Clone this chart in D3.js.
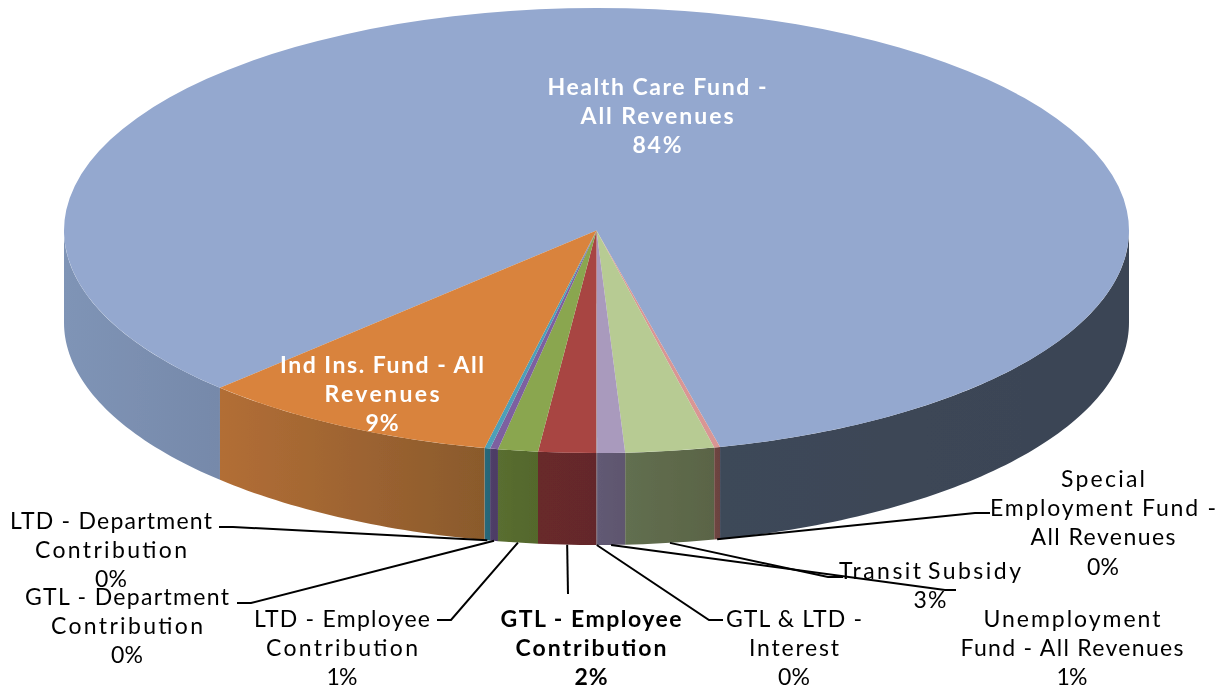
<!DOCTYPE html>
<html>
<head>
<meta charset="utf-8">
<script src="https://cdn.jsdelivr.net/npm/d3@7/dist/d3.min.js"></script>
<style>
html,body{margin:0;padding:0;background:#fff;overflow:hidden}
svg{display:block}
text{font-family:Lato,"Open Sans",sans-serif;font-size:23px;fill:#000;text-anchor:middle}
text.inner{fill:#fff;font-weight:700}
text.strong{font-weight:700}
</style>
</head>
<body>
<svg id="chart" width="1226" height="688"></svg>
<script>
// Data
const categories = ["Health Care Fund - All Revenues","Special Employment Fund - All Revenues","Transit Subsidy","Unemployment Fund - All Revenues","GTL & LTD - Interest","GTL - Employee Contribution","LTD - Employee Contribution","GTL - Department Contribution","LTD - Department Contribution","Ind Ins. Fund - All Revenues"];
const values = [83.79,0.18,2.69,0.84,0.02,1.75,1.21,0.24,0.17,9.13];
const percentLabels = ["84%","0%","3%","1%","0%","2%","1%","0%","0%","9%"];
const labelLines = [
  ["Health Care Fund -","All Revenues"],
  ["Special","Employment Fund -","All Revenues"],
  ["Transit Subsidy"],
  ["Unemployment","Fund - All Revenues"],
  ["GTL & LTD -","Interest"],
  ["GTL - Employee","Contribution"],
  ["LTD - Employee","Contribution"],
  ["GTL - Department","Contribution"],
  ["LTD - Department","Contribution"],
  ["Ind Ins. Fund - All","Revenues"]
];

// Styles
const topColors = ["#94a8cf","#d99694","#b7cb93","#a99abd","#92c5d8","#a84442","#8aa64f","#7d60a0","#4da0b8","#d9833c"];
const sideColors = [
  ["#7f94b6","#3a4454"],["#6f4440","#6a4340"],["#626f50","#5a6446"],["#625a74","#5e566e"],["#5d5a70","#5d5a70"],
  ["#68292b","#642829"],["#5a6e30","#53672c"],["#4f3f68","#4d3d64"],["#27687a","#266576"],["#b26e36","#8a5a2c"]
];

// Layout
const W=1226,H=688,cx=596.5,cy=230.5,rx=532.5,ry=222.5,depth=92;
const lineHeight=29.4;
// [label centre x, first line centre y, leader elbow x, elbow y, leader tail x] (null = no leader)
const layout = [
  [657,87,null],
  [1103,479,975,513,990],
  [930,571,828,577,843],
  [1072,619,945,590,956],
  [794,619,709,620,723],
  [591,619,568,594,568],
  [342,619,451,620,437],
  [127,597,251,603,237],
  [111,521,233,527,219],
  [382,365,null]
];
// set width of each text row, in px
const rowWidths = [
  [219,153,49],[84,226,145,32],[182,33],[177,223,31],[136,90,32],
  [181,151,33],[176,152,31],[204,152,32],[202,152,32],[204,115,33]
];
const strongIndex = 5;

const svg=d3.select("#chart");
const defs=svg.append("defs");
defs.append("filter").attr("id","softPie").append("feGaussianBlur").attr("stdDeviation",0.6);
defs.append("filter").attr("id","softText").append("feGaussianBlur").attr("stdDeviation",0.3);
const deg=Math.PI/180;
const pie=d3.pie().sort(null).value(d=>d).startAngle(-135*deg).endAngle(225*deg);
const arcs=pie(values);

const rimX=d3.scaleLinear().domain([-1,1]).range([cx-rx,cx+rx]);
const rimY=d3.scaleLinear().domain([-1,1]).range([cy+ry,cy-ry]);
const px=a=>rimX(Math.sin(a));
const py=a=>rimY(Math.cos(a));

const pieGroup=svg.append("g").attr("filter","url(#softPie)");

// Front wall pieces (visible between 90deg and 270deg clockwise from top)
function wallPieces(a){
  const out=[];
  const lo=90*deg,hi=270*deg;
  [0,2*Math.PI].forEach(shift=>{
    const s=Math.max(a.startAngle+shift,lo),e=Math.min(a.endAngle+shift,hi);
    if(e>s) out.push([s,e]);
  });
  return out;
}
const wallArea=d3.area().x(t=>px(t)).y0(t=>py(t)).y1(t=>py(t)+depth);
const walls=pieGroup.append("g");
arcs.forEach((a,i)=>{
  wallPieces(a).forEach(([s,e],k)=>{
    const id=`g${i}_${k}`;
    const isHealth=i===0;
    // the large slice has two separate walls: bright on the left, dark on the right
    const c=isHealth?(s>180*deg?["#7f94b6","#7689aa"]:["#3e4859","#3a4454"]):sideColors[i];
    const xs=[px(s),px(e)];
    const g=defs.append("linearGradient").attr("id",id).attr("gradientUnits","userSpaceOnUse")
      .attr("x1",d3.min(xs)).attr("x2",d3.max(xs)).attr("y1",0).attr("y2",0);
    g.append("stop").attr("offset",0).attr("stop-color",c[0]);
    g.append("stop").attr("offset",1).attr("stop-color",c[1]);
    const n=Math.max(2,Math.ceil((e-s)/deg));
    walls.append("path")
      .attr("d",wallArea(d3.range(n+1).map(j=>s+(e-s)*j/n)))
      .attr("fill",`url(#${id})`);
  });
});

// Top face
const arc=d3.arc().innerRadius(0).outerRadius(rx);
pieGroup.append("g").attr("transform",`translate(${cx},${cy}) scale(1,${ry/rx})`)
  .selectAll("path").data(arcs).join("path")
  .attr("d",arc).attr("fill",(d,i)=>topColors[i]);

// Leaders
const leader=svg.append("g").attr("fill","none").attr("stroke","#000").attr("stroke-width",2);
const line=d3.line();
arcs.forEach((a,i)=>{
  const L=layout[i];
  if(L[2]===null) return;
  const mid=(a.startAngle+a.endAngle)/2;
  leader.append("path").attr("d",line([[px(mid),py(mid)+depth],[L[2],L[3]],[L[4],L[3]]]));
});

// Labels
const labels=svg.append("g").attr("filter","url(#softText)");
categories.forEach((c,i)=>{
  const L=layout[i];
  const rows=[...labelLines[i],percentLabels[i]];
  const cls=L[2]===null?"inner":(i===strongIndex?"strong":null);
  rows.forEach((r,j)=>{
    labels.append("text").attr("class",cls)
      .attr("x",L[0]).attr("y",L[1]+j*lineHeight+7.5)
      .attr("textLength",rowWidths[i][j]).attr("lengthAdjust","spacing")
      .style("word-spacing",i===2?"-4px":null)
      .text(r);
  });
});
</script>
</body>
</html>
